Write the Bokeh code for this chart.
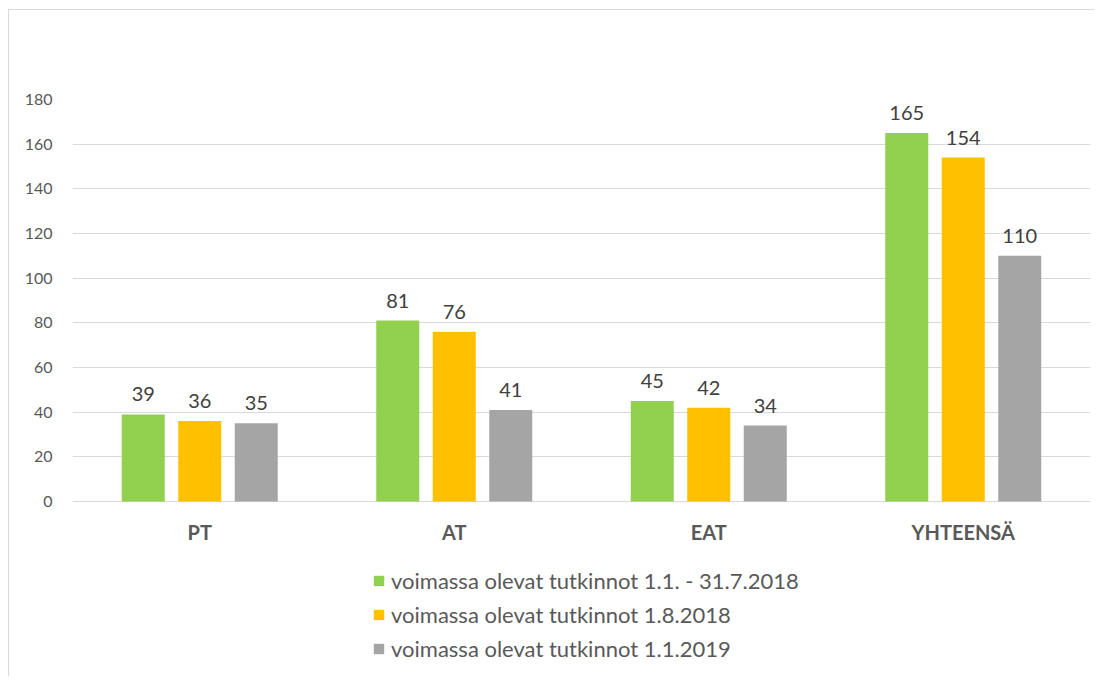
from bokeh.plotting import figure
from bokeh.models import (ColumnDataSource, FactorRange, Range1d, Legend, LegendItem,
                          FixedTicker)
from bokeh.transform import dodge
from bokeh.core.properties import value
from bokeh.embed import file_html
from bokeh.resources import INLINE

categories = ["PT", "AT", "EAT", "YHTEENSÄ"]
series_names = ["voimassa olevat tutkinnot 1.1. - 31.7.2018",
                "voimassa olevat tutkinnot 1.8.2018",
                "voimassa olevat tutkinnot 1.1.2019"]
s1 = [39, 81, 45, 165]
s2 = [36, 76, 42, 154]
s3 = [35, 41, 34, 110]
colors = ["#92D050", "#FFC000", "#A5A5A5"]
y_ticks = [0, 20, 40, 60, 80, 100, 120, 140, 160, 180]

FONT = "Lato"

W, H = 1094, 676
TOP, LEFT, RIGHT = 99, 72, 4
AXIS_Y = 501  # pixel row of the value 0
y_max = 180
y_min = -(H - AXIS_Y) * y_max / (AXIS_Y - TOP)

src = ColumnDataSource(dict(cat=categories, zero=[0] * len(categories),
                            s1=s1, s2=s2, s3=s3,
                            l1=[str(v) for v in s1], l2=[str(v) for v in s2],
                            l3=[str(v) for v in s3]))

p = figure(width=W, height=H, x_range=FactorRange(*categories, range_padding=0),
           y_range=Range1d(y_min, y_max), output_backend="svg", toolbar_location=None,
           min_border_left=LEFT, min_border_right=RIGHT, min_border_top=TOP,
           min_border_bottom=0)
p.outline_line_color = None
p.border_fill_alpha = 0
p.background_fill_alpha = 0
p.styles = {
    "background-image": "linear-gradient(#d9d9d9, #d9d9d9), linear-gradient(#d9d9d9, #d9d9d9)",
    "background-size": "1px calc(100% - 9px), calc(100% - 8px) 1px",
    "background-position": "8px 9px, 8px 9px",
    "background-repeat": "no-repeat",
}

offsets = [-0.222, 0.0, 0.222]
renderers = []
for key, lab, off, c in zip(["s1", "s2", "s3"], ["l1", "l2", "l3"], offsets, colors):
    r = p.vbar(x=dodge("cat", off, range=p.x_range), top=key, bottom=0, width=0.169,
               source=src, fill_color=c, line_color=None)
    renderers.append(r)
    p.text(x=dodge("cat", off, range=p.x_range), y=key, text=lab, source=src,
           text_align="center", text_baseline="bottom", y_offset=-13,
           text_font=value(FONT), text_font_size="20px", text_color="#404040")

# category labels under the 0 line
p.text(x="cat", y="zero", text="cat", source=src, text_align="center",
       text_baseline="middle", y_offset=30, text_font=value(FONT),
       text_font_style="bold", text_font_size="20px", text_color="#595959")

p.xaxis.visible = False
p.xgrid.grid_line_color = None
p.ygrid.grid_line_color = "#d9d9d9"
p.ygrid.ticker = FixedTicker(ticks=y_ticks)

p.yaxis.ticker = FixedTicker(ticks=y_ticks)
p.yaxis.axis_line_color = None
p.yaxis.major_tick_line_color = None
p.yaxis.minor_tick_line_color = None
p.yaxis.major_label_standoff = 14
p.yaxis.major_label_text_font = FONT
p.yaxis.major_label_text_font_size = "16px"
p.yaxis.major_label_text_color = "#595959"

legend = Legend(items=[LegendItem(label=n, renderers=[r]) for n, r in zip(series_names, renderers)],
                location=(300, 11), orientation="vertical",
                glyph_width=13, glyph_height=13, label_height=34, spacing=0,
                label_standoff=6, padding=2, margin=0, border_line_color=None,
                background_fill_alpha=0,
                label_text_font=FONT, label_text_font_size="22px", label_text_color="#595959")
p.add_layout(legend, "center")

open("out.html", "w").write(file_html(p, INLINE))
